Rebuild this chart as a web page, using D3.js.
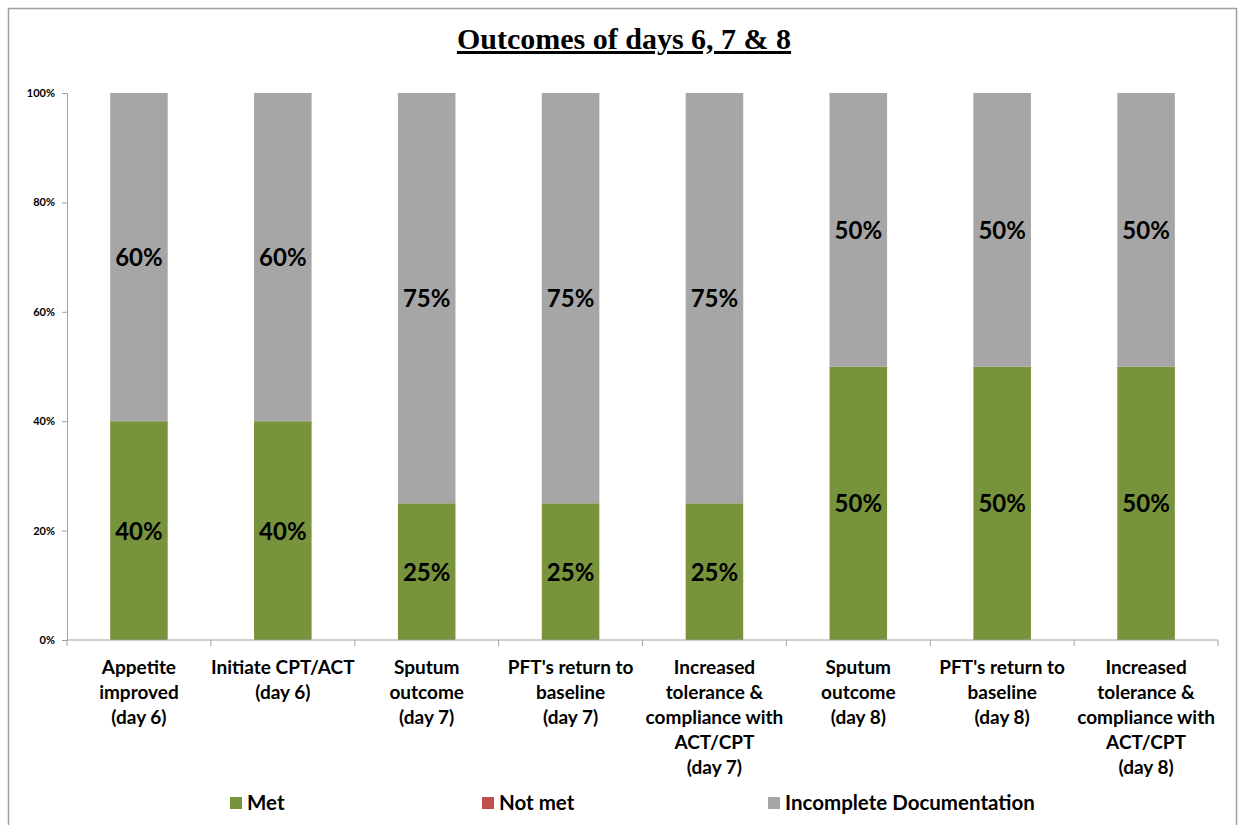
<!DOCTYPE html>
<html>
  <head>
    <meta charset="utf-8">
    <title>Outcomes of days 6, 7 & 8</title>
    <style>
    body { margin: 0; background: #fff; }
    text { font-family: Lato, "Open Sans", sans-serif; font-weight: bold; }
    </style>
  </head>
  <body>
    <script src="https://d3js.org/d3.v7.min.js"></script>
    <script>
    // categorias (lineas de cada etiqueta)
    var categories = [
      ["Appetite", "improved", "(day 6)"],
      ["Initiate CPT/ACT", "(day 6)"],
      ["Sputum", "outcome", "(day 7)"],
      ["PFT's return to", "baseline", "(day 7)"],
      ["Increased", "tolerance &", "compliance with", "ACT/CPT", "(day 7)"],
      ["Sputum", "outcome", "(day 8)"],
      ["PFT's return to", "baseline", "(day 8)"],
      ["Increased", "tolerance &", "compliance with", "ACT/CPT", "(day 8)"]
    ];
    var met = [40, 40, 25, 25, 25, 50, 50, 50];
    var notMet = [0, 0, 0, 0, 0, 0, 0, 0];
    var incomplete = [60, 60, 75, 75, 75, 50, 50, 50];
    var seriesNames = ["Met", "Not met", "Incomplete Documentation"];
    var seriesColors = ["#77933C", "#C0504D", "#A6A6A6"];
    var yTicks = [0, 20, 40, 60, 80, 100];

    var width = 1238, height = 825;
    var svg = d3.select("body").append("svg")
      .attr("width", width)
      .attr("height", height);

    // marco exterior
    svg.append("rect")
      .attr("x", 8.5).attr("y", 8.5)
      .attr("width", 1228).attr("height", 830)
      .attr("fill", "none")
      .attr("stroke", "#a0a0a0")
      .attr("stroke-width", 1.5);

    // titulo
    svg.append("text")
      .attr("x", 624).attr("y", 49)
      .attr("text-anchor", "middle")
      .style("font-family", "'Liberation Serif', 'DejaVu Serif', serif")
      .style("font-size", "30px")
      .style("text-decoration", "underline")
      .text("Outcomes of days 6, 7 & 8");

    var plotLeft = 67, plotRight = 1218, plotTop = 93, plotBottom = 640;

    var x = d3.scaleBand()
      .domain(d3.range(categories.length))
      .range([plotLeft, plotRight])
      .paddingInner(0.6)
      .paddingOuter(0.3);

    var y = d3.scaleLinear().domain([0, 100]).range([plotBottom, plotTop]);

    // datos apilados
    var rows = categories.map(function(c, i) {
      return { i: i, met: met[i], notMet: notMet[i], incomplete: incomplete[i] };
    });
    var keys = ["met", "notMet", "incomplete"];
    var stack = d3.stack().keys(keys)(rows);

    var layers = svg.selectAll("g.layer")
      .data(stack)
      .enter().append("g")
      .attr("class", "layer")
      .attr("fill", function(d, k) { return seriesColors[k]; });

    layers.selectAll("rect")
      .data(function(d) { return d; })
      .enter().append("rect")
      .attr("x", function(d) { return x(d.data.i); })
      .attr("y", function(d) { return y(d[1]); })
      .attr("width", x.bandwidth())
      .attr("height", function(d) { return y(d[0]) - y(d[1]); });

    // etiquetas de valores
    layers.selectAll("text")
      .data(function(d) { return d.filter(function(s) { return s[1] - s[0] > 0; }); })
      .enter().append("text")
      .attr("x", function(d) { return x(d.data.i) + x.bandwidth() / 2; })
      .attr("y", function(d) { return y((d[0] + d[1]) / 2) + 9; })
      .attr("text-anchor", "middle")
      .attr("fill", "#000")
      .style("font-size", "24px")
      .text(function(d) { return (d[1] - d[0]) + "%"; });

    // eje y
    var yAxis = svg.append("g")
      .attr("transform", "translate(" + plotLeft + ",0)")
      .call(d3.axisLeft(y).tickValues(yTicks).tickSize(5).tickSizeOuter(0)
        .tickFormat(function(d) { return d + "%"; }));
    yAxis.select(".domain").attr("stroke", "#a0a0a0");
    yAxis.selectAll(".tick line").attr("stroke", "#a0a0a0");
    yAxis.selectAll(".tick text")
      .attr("x", -12)
      .attr("fill", "#000")
      .style("font-size", "11px");

    // eje x
    var xg = svg.append("g");
    xg.append("line")
      .attr("x1", plotLeft).attr("x2", plotRight)
      .attr("y1", plotBottom).attr("y2", plotBottom)
      .attr("stroke", "#a0a0a0");
    var step = x.step();
    xg.selectAll("line.tk")
      .data(d3.range(categories.length + 1))
      .enter().append("line")
      .attr("class", "tk")
      .attr("x1", function(d) { return plotLeft + d * step; })
      .attr("x2", function(d) { return plotLeft + d * step; })
      .attr("y1", plotBottom).attr("y2", plotBottom + 6)
      .attr("stroke", "#a0a0a0");

    var labels = xg.selectAll("text.cat")
      .data(categories)
      .enter().append("text")
      .attr("class", "cat")
      .attr("text-anchor", "middle")
      .style("font-size", "19px")
      .attr("fill", "#000");
    labels.selectAll("tspan")
      .data(function(d, i) { return d.map(function(l) { return { l: l, i: i }; }); })
      .enter().append("tspan")
      .attr("x", function(d) { return x(d.i) + x.bandwidth() / 2; })
      .attr("y", function(d, j) { return 674 + j * 25; })
      .text(function(d) { return d.l; });

    // leyenda
    var legendX = [230, 482, 768];
    var lg = svg.selectAll("g.legend")
      .data(seriesNames)
      .enter().append("g")
      .attr("class", "legend")
      .attr("transform", function(d, i) { return "translate(" + legendX[i] + ",797)"; });
    lg.append("rect")
      .attr("width", 12).attr("height", 12)
      .attr("fill", function(d, i) { return seriesColors[i]; });
    lg.append("text")
      .attr("x", 17).attr("y", 13)
      .style("font-size", "20.5px")
      .text(function(d) { return d; });
    </script>
  </body>
</html>
